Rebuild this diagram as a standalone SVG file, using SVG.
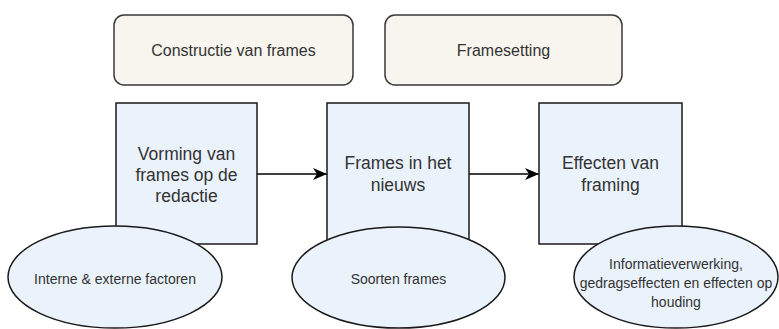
<svg xmlns="http://www.w3.org/2000/svg" width="779" height="329" viewBox="0 0 779 329">
<defs>
<style>
.hdr{fill:#f7f5ee;stroke:#36393d;stroke-width:1.5}
.blk{fill:#eaf2fb;stroke:#1a1a1a;stroke-width:1.5}
.t{font-family:"Liberation Sans",Arial,sans-serif;fill:#333;text-anchor:middle}
.t16{font-size:16px}
.t17{font-size:17.5px}
.t14{font-size:14px}
.edge{stroke:#000;stroke-width:1.5;fill:none}
</style>
<marker id="arr" markerWidth="15" markerHeight="13" refX="14" refY="6" orient="auto" markerUnits="userSpaceOnUse">
<path d="M0,0 L14,6 L0,12 L4,6 Z" fill="#000"/>
</marker>
</defs>
<rect width="779" height="329" fill="#fff"/>
<g id="hdr1"><rect class="hdr" x="114" y="15" width="239" height="70" rx="10"/><text class="t t16" x="233.5" y="56">Constructie van frames</text></g>
<g id="hdr2"><rect class="hdr" x="385" y="15" width="237" height="70" rx="10"/><text class="t t16" x="503.5" y="56">Framesetting</text></g>
<g id="connectors">
<line class="edge" x1="257" y1="174" x2="327" y2="174" marker-end="url(#arr)"/>
<line class="edge" x1="469" y1="174" x2="539" y2="174" marker-end="url(#arr)"/>
</g>
<g id="boxA"><rect class="blk" x="116" y="103" width="141" height="141"/><text class="t t17" x="186.5" y="160">Vorming van</text><text class="t t17" x="186.5" y="181">frames op de</text><text class="t t17" x="186.5" y="202">redactie</text></g>
<g id="boxB"><rect class="blk" x="327" y="103" width="142" height="141"/><text class="t t17" x="398" y="169">Frames in het</text><text class="t t17" x="398" y="191">nieuws</text></g>
<g id="boxC"><rect class="blk" x="539" y="103" width="143" height="141"/><text class="t t17" x="610.5" y="169">Effecten van</text><text class="t t17" x="610.5" y="191">framing</text></g>
<g id="ellA"><ellipse class="blk" cx="115" cy="277" rx="107" ry="51"/><text class="t t14" x="115" y="284">Interne &amp; externe factoren</text></g>
<g id="ellB"><ellipse class="blk" cx="398.5" cy="277.5" rx="106.5" ry="50.5"/><text class="t t14" x="398.5" y="284">Soorten frames</text></g>
<g id="ellC"><ellipse class="blk" cx="676" cy="277" rx="102" ry="51"/><text class="t t14" x="676" y="269">Informatieverwerking,</text><text class="t t14" x="676" y="288">gedragseffecten en effecten op</text><text class="t t14" x="676" y="307">houding</text></g>
</svg>
